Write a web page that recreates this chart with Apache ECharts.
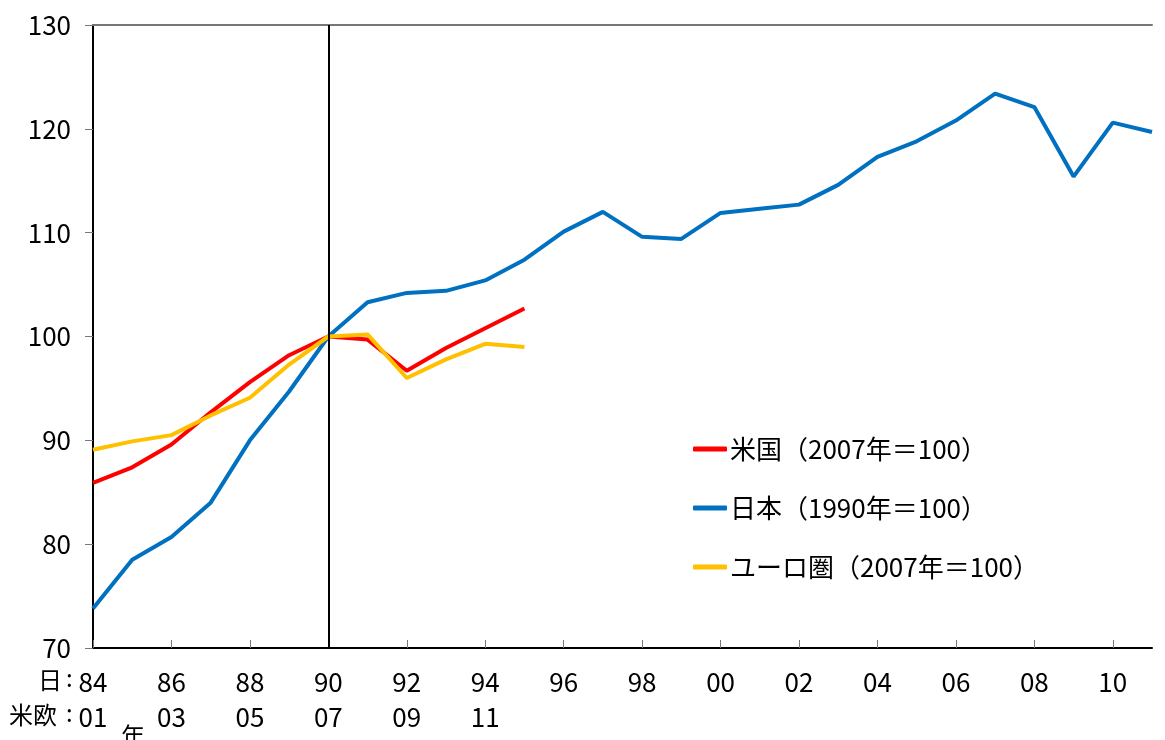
<!DOCTYPE html>
<html>
<head>
<meta charset="utf-8">
<script src="https://cdn.jsdelivr.net/npm/echarts@6/dist/echarts.min.js"></script>
<style>
  html, body { margin: 0; padding: 0; background: #fff; }
  #main { width: 1165px; height: 740px; }
</style>
</head>
<body>
<div id="main"></div>
<script>
// 日本の年（1984-2011）
var years = ['1984', '1985', '1986', '1987', '1988', '1989', '1990', '1991', '1992', '1993',
    '1994', '1995', '1996', '1997', '1998', '1999', '2000', '2001', '2002', '2003',
    '2004', '2005', '2006', '2007', '2008', '2009', '2010', '2011'];
// 米欧の年ラベル（2段目）
var usEuLabels = ['01', '02', '03', '04', '05', '06', '07', '08', '09', '10', '11', '12'];

var japan = [73.8, 78.5, 80.7, 84.0, 90.0, 94.7, 100.0, 103.3, 104.2, 104.4,
    105.4, 107.4, 110.1, 112.0, 109.6, 109.4, 111.9, 112.3, 112.7, 114.6,
    117.3, 118.8, 120.8, 123.4, 122.1, 115.4, 120.6, 119.7];
var us = [85.9, 87.4, 89.6, 92.7, 95.6, 98.2, 100.0, 99.7, 96.7, 98.9, 100.8, 102.7];
var euro = [89.1, 89.9, 90.5, 92.4, 94.1, 97.3, 100.0, 100.2, 96.0, 97.8, 99.3, 99.0];

var seriesNames = ['米国（2007年＝100）', '日本（1990年＝100）', 'ユーロ圏（2007年＝100）'];

var numFont = "'Noto Sans CJK JP', sans-serif";
var jpFont = "'Noto Sans CJK JP', sans-serif";

var chartDom = document.getElementById('main');
var myChart = echarts.init(chartDom, null, { renderer: 'canvas' });
var option;

option = {
    animation: false,
    grid: { left: 93, right: 13, top: 25, bottom: 92 },
    legend: {
        orient: 'vertical',
        left: 693,
        top: 436,
        padding: 0,
        icon: 'roundRect',
        itemWidth: 34,
        itemHeight: 5,
        itemGap: 33,
        data: [seriesNames[0], seriesNames[1], seriesNames[2]],
        textStyle: { fontFamily: jpFont, fontSize: 26, color: '#000', padding: [0, 0, 0, -2] }
    },
    xAxis: [
        {
            type: 'category',
            data: years,
            boundaryGap: false,
            axisLine: { lineStyle: { color: '#000', width: 2 } },
            axisTick: { inside: true, length: 8, interval: 1, lineStyle: { color: '#777', width: 1 } },
            axisLabel: {
                interval: 1,
                margin: 17,
                color: '#000',
                fontFamily: numFont,
                fontSize: 26,
                lineHeight: 35,
                formatter: function (value, idx) {
                    var s = value.slice(2);
                    if (usEuLabels[idx] !== undefined && idx < usEuLabels.length - 1) {
                        s += '\n' + usEuLabels[idx];
                    }
                    return s;
                }
            },
            splitLine: { show: false }
        },
        {
            type: 'category',
            position: 'top',
            data: years,
            boundaryGap: false,
            axisLine: { lineStyle: { color: '#777', width: 2 } },
            axisTick: { show: false },
            axisLabel: { show: false },
            splitLine: { show: false }
        }
    ],
    yAxis: {
        type: 'value',
        min: 70,
        max: 130,
        interval: 10,
        axisLine: { show: true, lineStyle: { color: '#000', width: 2 } },
        axisTick: { show: true, length: 8, lineStyle: { color: '#777', width: 1 } },
        axisLabel: { margin: 22, color: '#000', fontFamily: numFont, fontSize: 26 },
        splitLine: { show: false }
    },
    graphic: [
        { type: 'text', left: 38, top: 668, style: { text: '日', fontFamily: jpFont, fontSize: 24, fill: '#000' } },
        { type: 'text', left: 66, top: 666, style: { text: ':', fontFamily: jpFont, fontSize: 24, fill: '#000' } },
        { type: 'text', left: 9, top: 703, style: { text: '米欧', fontFamily: jpFont, fontSize: 24, fill: '#000' } },
        { type: 'text', left: 66, top: 701, style: { text: ':', fontFamily: jpFont, fontSize: 24, fill: '#000' } },
        { type: 'text', left: 121, top: 724, style: { text: '年', fontFamily: jpFont, fontSize: 24, fill: '#000' } }
    ],
    series: [
        {
            name: seriesNames[0],
            type: 'line',
            data: us,
            symbol: 'none',
            color: '#FF0000',
            lineStyle: { width: 4, color: '#FF0000' },
            z: 3
        },
        {
            name: seriesNames[1],
            type: 'line',
            data: japan,
            symbol: 'none',
            color: '#0070C0',
            lineStyle: { width: 4, color: '#0070C0' },
            z: 2,
            markLine: {
                silent: true,
                symbol: ['none', 'none'],
                label: { show: false },
                lineStyle: { color: '#000', width: 2, type: 'solid' },
                data: [{ xAxis: '1990' }]
            }
        },
        {
            name: seriesNames[2],
            type: 'line',
            data: euro,
            symbol: 'none',
            color: '#FFC000',
            lineStyle: { width: 4, color: '#FFC000' },
            z: 4
        }
    ]
};

option && myChart.setOption(option);
</script>
</body>
</html>
